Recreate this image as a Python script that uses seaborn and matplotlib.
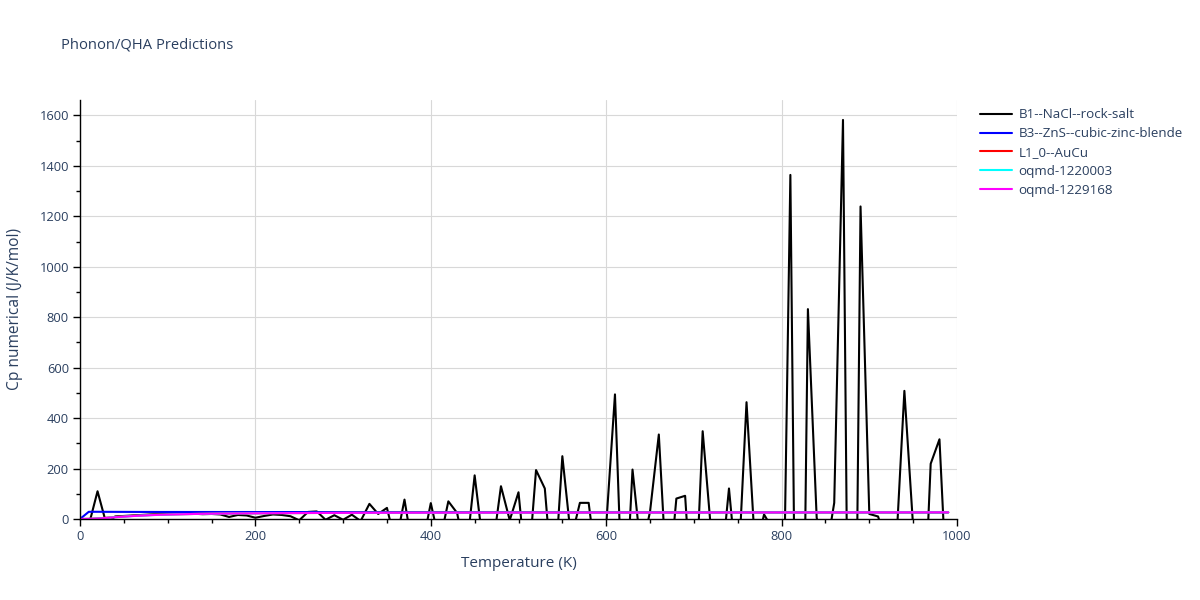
import numpy as np
import pandas as pd
import matplotlib
matplotlib.use("Agg")
import matplotlib.pyplot as plt
from matplotlib.ticker import MultipleLocator
import seaborn as sns

temperatures = [
    0, 10, 20, 30, 40, 50, 60, 70, 80, 90,
    100, 110, 120, 130, 140, 150, 160, 170, 180, 190,
    200, 210, 220, 230, 240, 250, 260, 270, 280, 290,
    300, 310, 320, 330, 340, 350, 360, 370, 380, 390,
    400, 410, 420, 430, 440, 450, 460, 470, 480, 490,
    500, 510, 520, 530, 540, 550, 560, 570, 580, 590,
    600, 610, 620, 630, 640, 650, 660, 670, 680, 690,
    700, 710, 720, 730, 740, 750, 760, 770, 780, 790,
    800, 810, 820, 830, 840, 850, 860, 870, 880, 890,
    900, 910, 920, 930, 940, 950, 960, 970, 980, 990,
]

cp_b1_nacl = [
    0, -25, 110, -19, 10, 12, 14, 16, 18, 19,
    20, 20, 21, 21, 19, 20, 18, 8, 16, 14,
    5, 12, 18, 16, 11, -5, 28, 30, -3, 15,
    -3, 17, -8, 60, 20, 44, -100, 77, -137, -112,
    63, -95, 70, 24, -150, 173, -115, -130, 130, -5,
    106, -250, 194, 121, -296, 249, -80, 64, 64, -214,
    -26, 494, -480, 196, -136, 30, 335, -300, 81, 92,
    -450, 348, -66, -235, 121, -250, 463, -130, 18, -42,
    -872, 1364, -2000, 832, 5, -150, 64, 1582, -2200, 1239,
    20, 10, -100, -152, 508, -32, -592, 219, 316, -400,
]

cp_b3_zns = [
    0, 28.5, 28.6, 28.4, 28.3, 28.2, 28.1, 28.0, 28.0, 27.9,
    27.9, 27.9, 27.8, 27.8, 27.8, 27.8, 27.7, 27.7, 27.7, 27.7,
    27.6, 27.6, 27.6, 27.6, 27.6, 27.5, 27.5, 27.5, 27.5, 27.5,
    27.4, 27.4, 27.4, 27.4, 27.4, 27.3, 27.3, 27.3, 27.3, 27.3,
    27.2, 27.2, 27.2, 27.2, 27.2, 27.1, 27.1, 27.1, 27.1, 27.1,
    27.0, 27.0, 27.0, 27.0, 27.0, 26.9, 26.9, 26.9, 26.9, 26.9,
    26.8, 26.8, 26.8, 26.8, 26.8, 26.7, 26.7, 26.7, 26.7, 26.7,
    26.6, 26.6, 26.6, 26.6, 26.6, 26.5, 26.5, 26.5, 26.5, 26.5,
    26.4, 26.4, 26.4, 26.4, 26.4, 26.3, 26.3, 26.3, 26.3, 26.3,
    26.2, 26.2, 26.2, 26.2, 26.2, 26.1, 26.1, 26.1, 26.1, 26.1,
]

cp_l10_aucu = [
    0, 0.6, 2.4, 5.0, 7.8, 10.3, 12.4, 14.2, 15.7, 16.9,
    17.9, 18.7, 19.4, 20.0, 20.6, 21.0, 21.4, 21.8, 22.1, 22.4,
    22.7, 22.9, 23.1, 23.3, 23.5, 23.6, 23.8, 23.9, 24.0, 24.1,
    24.2, 24.3, 24.4, 24.5, 24.5, 24.6, 24.7, 24.7, 24.8, 24.8,
    24.9, 24.9, 25.0, 25.0, 25.1, 25.1, 25.1, 25.2, 25.2, 25.2,
    25.3, 25.3, 25.3, 25.4, 25.4, 25.4, 25.4, 25.5, 25.5, 25.5,
    25.5, 25.6, 25.6, 25.6, 25.6, 25.7, 25.7, 25.7, 25.7, 25.8,
    25.8, 25.8, 25.8, 25.9, 25.9, 25.9, 25.9, 26.0, 26.0, 26.0,
    26.0, 26.1, 26.1, 26.1, 26.1, 26.2, 26.2, 26.2, 26.2, 26.3,
    26.3, 26.3, 26.3, 26.4, 26.4, 26.4, 26.4, 26.5, 26.5, 26.5,
]

cp_oqmd_1220003 = [
    0, 0.5, 2.0, 4.5, 7.2, 9.7, 11.9, 13.8, 15.3, 16.6,
    17.7, 18.6, 19.3, 20.0, 20.5, 21.0, 21.4, 21.8, 22.1, 22.4,
    22.7, 22.9, 23.1, 23.3, 23.5, 23.6, 23.8, 23.9, 24.0, 24.1,
    24.2, 24.3, 24.4, 24.5, 24.5, 24.6, 24.7, 24.7, 24.8, 24.8,
    24.9, 24.9, 25.0, 25.0, 25.1, 25.1, 25.1, 25.2, 25.2, 25.2,
    25.3, 25.3, 25.3, 25.4, 25.4, 25.4, 25.4, 25.5, 25.5, 25.5,
    25.5, 25.6, 25.6, 25.6, 25.6, 25.7, 25.7, 25.7, 25.7, 25.8,
    25.8, 25.8, 25.8, 25.9, 25.9, 25.9, 25.9, 26.0, 26.0, 26.0,
    26.0, 26.1, 26.1, 26.1, 26.1, 26.2, 26.2, 26.2, 26.2, 26.3,
    26.3, 26.3, 26.3, 26.4, 26.4, 26.4, 26.4, 26.5, 26.5, 26.5,
]

cp_oqmd_1229168 = [
    0, 0.4, 1.8, 4.2, 6.9, 9.4, 11.6, 13.5, 15.1, 16.4,
    17.5, 18.4, 19.2, 19.9, 20.5, 21.0, 21.4, 21.8, 22.1, 22.4,
    22.7, 22.9, 23.1, 23.3, 23.5, 23.6, 23.8, 23.9, 24.0, 24.1,
    24.2, 24.3, 24.4, 24.5, 24.5, 24.6, 24.7, 24.7, 24.8, 24.8,
    24.9, 24.9, 25.0, 25.0, 25.1, 25.1, 25.1, 25.2, 25.2, 25.2,
    25.3, 25.3, 25.3, 25.4, 25.4, 25.4, 25.4, 25.5, 25.5, 25.5,
    25.5, 25.6, 25.6, 25.6, 25.6, 25.7, 25.7, 25.7, 25.7, 25.8,
    25.8, 25.8, 25.8, 25.9, 25.9, 25.9, 25.9, 26.0, 26.0, 26.0,
    26.0, 26.1, 26.1, 26.1, 26.1, 26.2, 26.2, 26.2, 26.2, 26.3,
    26.3, 26.3, 26.3, 26.4, 26.4, 26.4, 26.4, 26.5, 26.5, 26.5,
]

series_names = [
    "B1--NaCl--rock-salt",
    "B3--ZnS--cubic-zinc-blende",
    "L1_0--AuCu",
    "oqmd-1220003",
    "oqmd-1229168",
]
series_values = [cp_b1_nacl, cp_b3_zns, cp_l10_aucu, cp_oqmd_1220003, cp_oqmd_1229168]
series_colors = ["#000000", "#0000ff", "#ff0000", "#00ffff", "#ff00ff"]

title_text = "Phonon/QHA Predictions"
x_label = "Temperature (K)"
y_label = "Cp numerical (J/K/mol)"

frames = []
for name, vals in zip(series_names, series_values):
    frames.append(pd.DataFrame({"Temperature": temperatures, "Cp": vals, "series": name}))
df = pd.concat(frames, ignore_index=True)

sns.set_theme(style="white")
plt.rcParams["font.family"] = ["Open Sans", "DejaVu Sans"]
text_color = "#2a3f5f"

fig = plt.figure(figsize=(12, 6), dpi=100)
ax = fig.add_axes([80 / 1200, 81 / 600, 877 / 1200, 419 / 600])

sns.lineplot(
    data=df, x="Temperature", y="Cp", hue="series",
    hue_order=series_names, palette=dict(zip(series_names, series_colors)),
    linewidth=1.5, ax=ax, estimator=None, sort=False, legend=True,
)

ax.set_xlim(0, 1000)
ax.set_ylim(0, 1661)
ax.xaxis.set_major_locator(MultipleLocator(200))
ax.xaxis.set_minor_locator(MultipleLocator(50))
ax.yaxis.set_major_locator(MultipleLocator(200))
ax.yaxis.set_minor_locator(MultipleLocator(100))
ax.grid(True, which="major", color="#d8d8d8", linewidth=0.8)
ax.set_axisbelow(True)
for s in ["top", "right"]:
    ax.spines[s].set_visible(False)
for s in ["left", "bottom"]:
    ax.spines[s].set_color("#000000")
    ax.spines[s].set_linewidth(1.0)
ax.tick_params(axis="both", which="major", direction="out", length=5, width=1,
               color="#000000", labelsize=9.3, labelcolor=text_color, pad=3,
               bottom=True, left=True)
ax.tick_params(axis="both", which="minor", direction="out", length=3, width=1,
               color="#000000", bottom=True, left=True)

ax.set_xlabel(x_label, fontsize=11, color=text_color, labelpad=9)
ax.set_ylabel(y_label, fontsize=11.2, color=text_color, labelpad=12)

fig.text(61 / 1200, 1 - 45 / 600, title_text, fontsize=10.6, color=text_color,
         ha="left", va="center")

handles, labels = ax.get_legend_handles_labels()
leg = ax.legend(handles, labels, loc="upper left", bbox_to_anchor=(975 / 1200, 1 - 103 / 600),
                bbox_transform=fig.transFigure, frameon=False, fontsize=9.6,
                handlelength=2.4, handletextpad=0.45, labelspacing=0.44, borderaxespad=0)
for t in leg.get_texts():
    t.set_color(text_color)
for l in leg.get_lines():
    l.set_linewidth(1.5)

fig.savefig("out.png", dpi=100)
